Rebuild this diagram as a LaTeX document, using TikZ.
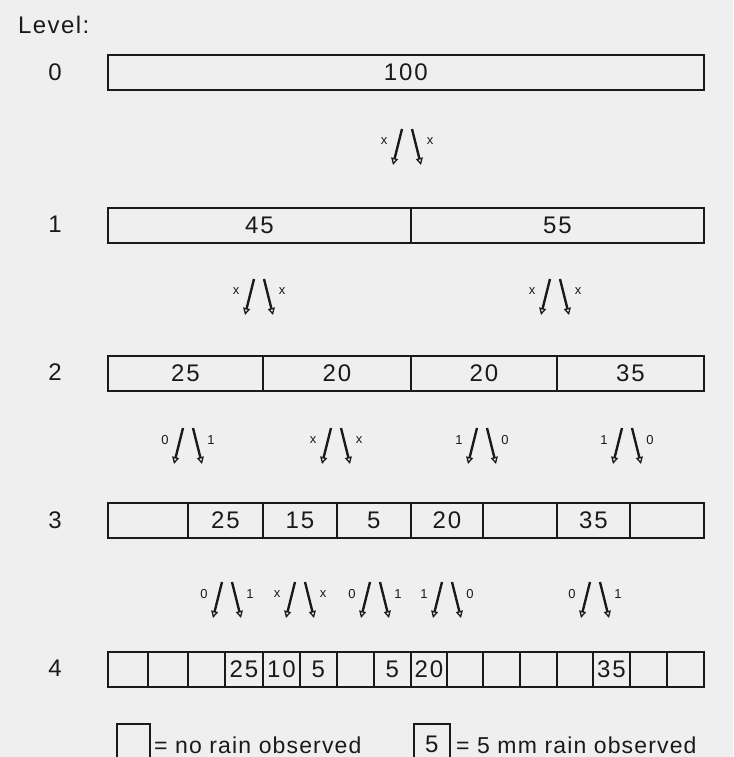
\documentclass[tikz,border=0pt]{standalone}
\usepackage{fontspec}
\setmainfont{Liberation Sans}
\newfontfamily\numfont[LetterSpace=8]{Liberation Sans}
\newfontfamily\lvlfont[LetterSpace=6]{Liberation Sans}
\newfontfamily\legfont[LetterSpace=5]{Liberation Sans}
\usetikzlibrary{arrows.meta}
\definecolor{ink}{HTML}{1A1A1A}
\definecolor{paper}{HTML}{EFEFEF}
\newcommand\arrowpair[6]{%
  \coordinate (#1ta) at (#2-5,#3);
  \coordinate (#1ba) at (#2-14,#3+36);
  \coordinate (#1tb) at (#2+5,#3);
  \coordinate (#1bb) at (#2+14,#3+36);
  \draw[arr] (#1ta) -- (#1ba);
  \draw[arr] (#1tb) -- (#1bb);
  \node[small] (#1l) at (#2-23,#3+12) {#4};
  \node[small] (#1r) at (#2+23,#3+12) {#5};
}
\begin{document}
\begin{tikzpicture}[x=1pt,y=-1pt,
  cell/.style={draw=ink, line width=1.8pt, minimum height=35pt, inner sep=0pt,
    anchor=north west, font=\numfont\fontsize{24}{24}\selectfont, text=ink},
  lvl/.style={font=\lvlfont\fontsize{24}{24}\selectfont, text=ink, inner sep=0pt},
  small/.style={font=\fontsize{13}{13}\selectfont, text=ink, inner sep=0pt},
  legend/.style={font=\legfont\fontsize{23}{23}\selectfont, text=ink, inner sep=0pt,
    anchor=base west, text depth=0pt},
  arr/.style={draw=ink, line width=2.4pt, -{Triangle[open,length=7pt,width=7pt,line width=1.3pt]}}
]
\fill[paper] (0,0) rectangle (733,757);
\useasboundingbox (0,0) rectangle (733,757);

\node[lvl, anchor=west] (level) at (18,25) {Level:};

% level labels
\node[lvl] (n0) at (55,72) {0};
\node[lvl] (n1) at (55,224) {1};
\node[lvl] (n2) at (55,372) {2};
\node[lvl] (n3) at (55,520) {3};
\node[lvl] (n4) at (55,668) {4};

% level 0
\node[cell, minimum width=596pt] (c0) at (107,54) {100};

% level 1
\node[cell, minimum width=303pt] (c1a) at (107,207) {45};
\node[cell, minimum width=293pt] (c1b) at (410,207) {55};

% level 2
\node[cell, minimum width=155pt] (c2a) at (107,355) {25};
\node[cell, minimum width=148pt] (c2b) at (262,355) {20};
\node[cell, minimum width=146pt] (c2c) at (410,355) {20};
\node[cell, minimum width=147pt] (c2d) at (556,355) {35};

% level 3
\node[cell, minimum width=80pt] (c3a) at (107,502) {};
\node[cell, minimum width=75pt] (c3b) at (187,502) {25};
\node[cell, minimum width=74pt] (c3c) at (262,502) {15};
\node[cell, minimum width=74pt] (c3d) at (336,502) {5};
\node[cell, minimum width=72pt] (c3e) at (410,502) {20};
\node[cell, minimum width=74pt] (c3f) at (482,502) {};
\node[cell, minimum width=73pt] (c3g) at (556,502) {35};
\node[cell, minimum width=74pt] (c3h) at (629,502) {};

% level 4
\node[cell, minimum width=40pt] (c4a) at (107,651) {};
\node[cell, minimum width=40pt] (c4b) at (147,651) {};
\node[cell, minimum width=37pt] (c4c) at (187,651) {};
\node[cell, minimum width=38pt] (c4d) at (224,651) {25};
\node[cell, minimum width=37pt] (c4e) at (262,651) {10};
\node[cell, minimum width=37pt] (c4f) at (299,651) {5};
\node[cell, minimum width=37pt] (c4g) at (336,651) {};
\node[cell, minimum width=37pt] (c4h) at (373,651) {5};
\node[cell, minimum width=36pt] (c4i) at (410,651) {20};
\node[cell, minimum width=36pt] (c4j) at (446,651) {};
\node[cell, minimum width=37pt] (c4k) at (482,651) {};
\node[cell, minimum width=37pt] (c4l) at (519,651) {};
\node[cell, minimum width=36pt] (c4m) at (556,651) {};
\node[cell, minimum width=37pt] (c4n) at (592,651) {35};
\node[cell, minimum width=37pt] (c4o) at (629,651) {};
\node[cell, minimum width=37pt] (c4p) at (666,651) {};

% arrows
\arrowpair{p01}{407}{129}{x}{x}{}
\arrowpair{p12a}{259}{279}{x}{x}{}
\arrowpair{p12b}{555}{279}{x}{x}{}
\arrowpair{p23a}{188}{428}{0}{1}{}
\arrowpair{p23b}{336}{428}{x}{x}{}
\arrowpair{p23c}{482}{428}{1}{0}{}
\arrowpair{p23d}{627}{428}{1}{0}{}
\arrowpair{p34a}{227}{582}{0}{1}{}
\arrowpair{p34b}{300}{582}{x}{x}{}
\arrowpair{p34c}{375}{582}{0}{1}{}
\arrowpair{p34d}{447}{582}{1}{0}{}
\arrowpair{p34e}{595}{582}{0}{1}{}

% legend
\node[cell, minimum width=33pt, minimum height=40pt] (k1) at (116,723) {};
\node[legend] (k1t) at (154,753) {= no rain observed};
\node[cell, minimum width=36pt, minimum height=40pt] (k2) at (413,723) {5};
\node[legend] (k2t) at (456,753) {= 5 mm rain observed};
\end{tikzpicture}
\end{document}
